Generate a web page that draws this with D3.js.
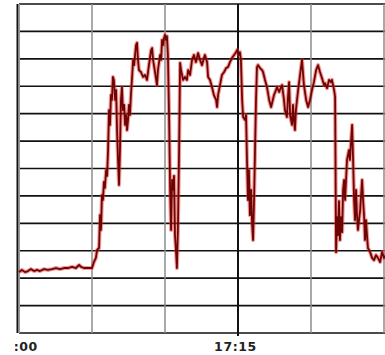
<!DOCTYPE html>
<html>
<head>
<meta charset="utf-8">
<script src="https://cdn.jsdelivr.net/npm/d3@7"></script>
<style>
  body { margin: 0; background: #fff; }
  .xlab text { font-family: "DejaVu Sans", sans-serif; font-weight: bold; font-size: 12.5px; fill: #222; letter-spacing: 0.6px; }
</style>
</head>
<body>
<div id="chart"></div>
<script>
// seconds after 17:00 and the plotted value (one grid step = 10)
const seconds = [0,12,25,37,49,62,74,86,103,119,136,152,169,185,201,218,234,247,255,267,284,300,
  308,316,321,329,333,337,341,345,349,353,358,362,
  366,370,374,378,382,386,390,395,399,403,407,411,415,419,423,427,432,436,440,444,448,452,456,460,464,469,473,481,485,489,493,501,510,518,526,534,543,547,551,559,567,571,580,584,588,592,596,600,604,608,612,617,621,625,629,633,637,641,645,649,653,658,662,666,670,674,682,690,695,703,711,719,727,736,744,752,760,764,773,777,785,793,801,810,814,818,826,834,843,851,859,867,875,884,892,896,904,908,912,917,921,929,933,937,941,945,949,954,958,962,966,970,974,978,982,991,999,1003,1011,1019,1028,1036,1040,1048,1056,1060,1069,1077,1081,1089,1093,1101,1106,1110,1114,1122,1126,1130,1134,1138,1147,1155,1163,1171,1180,1188,1196,1204,1212,1221,1229,1237,1245,1254,1258,1266,1274,1282,1286,1295,1299,1303,1307,1311,1315,1319,1323,1328,1332,1336,1340,1348,1356,1360,1365,1369,1373,1377,1381,1385,1389,1393,1402,1410,1414,1418,1422,1426,1430,1434,1443,1451,1459,1467,1475,1484,1492,1500,1508];
const values = [22.2,23.0,22.2,22.6,23.3,22.6,23.0,22.6,23.3,23.0,23.3,23.7,23.3,23.7,23.7,24.1,23.7,24.8,24.1,23.7,23.7,23.7,
  25.9,27.4,30.3,31.0,43.0,37.6,50.3,48.5,55.1,52.9,59.4,57.3,
  66.7,81.3,75.9,86.8,85.0,93.4,92.3,85.0,88.6,74.0,63.1,54.0,66.7,85.0,89.7,81.3,83.2,75.9,79.5,74.0,77.7,83.2,79.5,86.8,92.3,99.6,97.7,105.0,105.8,99.6,95.9,95.2,93.4,94.1,92.3,97.7,103.2,103.9,99.6,95.2,90.4,95.9,101.4,99.6,106.9,105.0,107.6,108.7,106.9,108.3,101.4,77.7,52.2,37.6,55.8,52.2,57.3,35.7,30.3,23.7,37.6,66.7,98.5,95.9,94.1,92.3,93.4,92.3,95.9,94.1,99.6,101.4,98.8,102.1,99.6,97.7,100.3,101.4,98.8,93.4,92.3,89.7,86.8,85.0,82.4,86.8,90.4,94.1,95.2,96.6,97.0,98.8,100.3,101.4,102.4,103.2,101.4,102.4,99.6,85.0,78.8,77.7,79.5,63.1,48.5,59.4,43.0,52.2,39.4,33.9,48.5,66.7,85.0,97.0,97.7,96.6,95.9,95.2,92.3,89.7,85.0,82.4,83.9,86.8,88.6,89.7,87.9,89.7,90.4,85.0,81.3,78.8,86.8,91.5,79.5,75.9,83.2,77.7,74.0,81.3,88.6,94.1,99.6,90.4,85.0,82.4,85.0,88.6,91.5,95.9,97.7,95.2,93.0,90.4,91.1,89.3,92.3,91.5,92.3,88.6,86.1,29.5,42.3,35.7,48.1,33.9,42.3,36.8,52.2,55.8,48.5,63.1,66.7,63.1,70.4,75.9,63.1,48.5,41.2,52.2,43.0,37.6,44.9,55.8,48.5,43.0,33.9,41.2,35.7,31.0,29.5,27.4,26.6,28.4,27.4,25.9,29.5,27.4,28.4];
const gridMinutes = [0, 5, 10, 15, 20, 25];
const labelMinutes = [0, 15];
const yTicks = d3.range(0, 121, 10);

const W = 385, H = 355;
const plotLeft = 19, plotRight = 384, plotTop = 4, plotBottom = 333;
const base = new Date(2000, 0, 1, 17, 0, 0);
const t = s => new Date(base.getTime() + s * 1000);

const svg = d3.select("#chart").append("svg")
  .attr("width", W).attr("height", H);

// the source image is cropped just left of the first label's colon
svg.append("clipPath").attr("id", "labclip")
  .append("rect").attr("x", 15).attr("y", 0).attr("width", W).attr("height", H);

const x = d3.scaleTime().domain([t(0), t(1500)]).range([plotLeft, plotRight]);
const y = d3.scaleLinear().domain([0, 120]).range([plotBottom, plotTop]);

// horizontal grid
svg.append("g").selectAll("line").data(yTicks).join("line")
  .attr("x1", plotLeft).attr("x2", W + 2)
  .attr("y1", d => y(d)).attr("y2", d => y(d))
  .attr("stroke", "#111").attr("stroke-width", 1.6);

// vertical grid
svg.append("g").selectAll("line").data(gridMinutes.slice(1)).join("line")
  .attr("x1", d => x(t(d * 60))).attr("x2", d => x(t(d * 60)))
  .attr("y1", plotTop).attr("y2", d => d === 15 ? plotBottom + 3 : plotBottom)
  .attr("stroke", d => d === 15 ? "#111" : "#8c8c8c")
  .attr("stroke-width", d => d === 15 ? 2 : 1.5);

// left axis line
svg.append("line")
  .attr("x1", plotLeft - 1.5).attr("x2", plotLeft - 1.5).attr("y1", plotTop).attr("y2", plotBottom)
  .attr("stroke", "#111").attr("stroke-width", 2);
svg.append("line")
  .attr("x1", plotLeft + 0.5).attr("x2", plotLeft + 0.5).attr("y1", plotTop).attr("y2", plotBottom)
  .attr("stroke", "#999").attr("stroke-width", 1);

// the series
const pts = seconds.map((s, i) => [t(s), values[i]]);
const line = d3.line().x(d => x(d[0])).y(d => y(d[1]));
svg.append("path").datum(pts)
  .attr("fill", "none").attr("stroke", "#e8322e").attr("stroke-opacity", 0.5)
  .attr("stroke-width", 4).attr("stroke-linejoin", "round")
  .attr("d", line);
svg.append("path").datum(pts)
  .attr("fill", "none").attr("stroke", "#6e0505")
  .attr("stroke-width", 1.8).attr("stroke-linejoin", "round")
  .attr("d", line);

// time labels
const xAxis = d3.axisBottom(x)
  .tickValues(labelMinutes.map(m => t(m * 60)))
  .tickFormat(d3.timeFormat("%H:%M"))
  .tickSize(0);
svg.append("g").attr("clip-path", "url(#labclip)")
  .append("g").attr("class", "xlab")
  .attr("transform", `translate(-3,${plotBottom + 6})`)
  .call(xAxis)
  .call(g => g.select(".domain").remove());
</script>
</body>
</html>
